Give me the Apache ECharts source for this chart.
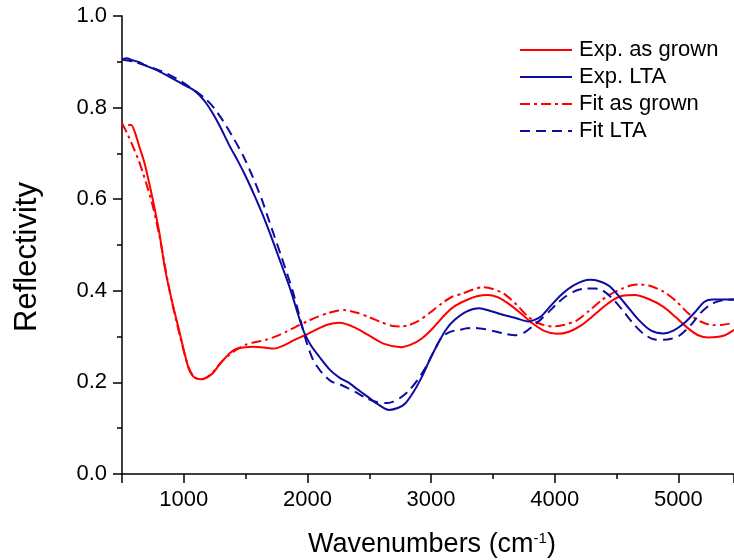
<!DOCTYPE html>
<html><head><meta charset="utf-8">
<script src="https://cdn.jsdelivr.net/npm/echarts@6/dist/echarts.min.js"></script>
<style>html,body{margin:0;padding:0;background:#fff}#c{width:734px;height:560px}</style>
</head><body><div id="c"></div>
<script>
var expGrownX = [550,575,603,640,683,720,750,800,850,902,968,1035,1080,1134,1180,1234,1290,1333,1390,1432,1500,1565,1650,1731,1810,1896,1980,2062,2160,2261,2380,2494,2620,2757,2840,2925,3020,3123,3200,3289,3370,3455,3540,3620,3720,3819,3920,4018,4110,4217,4300,4382,4460,4548,4648,4760,4880,4980,5079,5160,5244,5310,5376,5450];
var expGrownY = [0.762,0.762,0.747,0.715,0.678,0.635,0.598,0.530,0.445,0.380,0.307,0.234,0.212,0.207,0.210,0.220,0.240,0.253,0.268,0.274,0.277,0.278,0.276,0.274,0.281,0.293,0.303,0.314,0.326,0.330,0.320,0.303,0.284,0.277,0.283,0.296,0.320,0.351,0.368,0.380,0.388,0.391,0.386,0.373,0.352,0.329,0.312,0.306,0.310,0.325,0.343,0.362,0.378,0.389,0.391,0.382,0.365,0.342,0.318,0.303,0.298,0.299,0.303,0.315];

var expLtaX = [500,540,576,640,697,780,858,940,1020,1080,1127,1180,1235,1300,1369,1440,1504,1570,1632,1700,1764,1863,1963,2030,2096,2180,2261,2330,2394,2480,2560,2659,2730,2791,2860,2925,2990,3056,3120,3189,3290,3388,3480,3587,3690,3786,3885,3960,4051,4160,4283,4360,4449,4560,4681,4780,4880,4960,5046,5130,5211,5280,5343,5450];
var expLtaY = [0.905,0.908,0.904,0.899,0.891,0.882,0.871,0.859,0.847,0.838,0.827,0.810,0.787,0.755,0.717,0.682,0.648,0.609,0.570,0.523,0.476,0.402,0.316,0.280,0.256,0.228,0.210,0.200,0.187,0.170,0.154,0.140,0.144,0.154,0.180,0.212,0.250,0.285,0.315,0.336,0.355,0.362,0.356,0.347,0.340,0.333,0.343,0.365,0.391,0.413,0.424,0.421,0.409,0.375,0.336,0.313,0.307,0.313,0.329,0.352,0.376,0.381,0.381,0.381];

var fitGrownX = [500,540,589,630,670,710,750,804,850,902,968,1035,1080,1134,1180,1234,1300,1366,1430,1498,1580,1665,1750,1830,1910,1996,2080,2162,2230,2294,2400,2494,2600,2692,2760,2820,2891,2990,3090,3170,3255,3340,3421,3500,3587,3690,3786,3880,3985,4080,4183,4280,4382,4460,4548,4620,4681,4780,4880,4980,5079,5180,5277,5360,5450];
var fitGrownY = [0.766,0.745,0.715,0.688,0.657,0.622,0.584,0.518,0.450,0.378,0.302,0.235,0.213,0.206,0.210,0.222,0.243,0.260,0.272,0.282,0.288,0.293,0.301,0.311,0.322,0.333,0.343,0.351,0.356,0.358,0.352,0.343,0.331,0.323,0.322,0.325,0.333,0.352,0.373,0.387,0.394,0.403,0.408,0.404,0.394,0.370,0.343,0.328,0.322,0.326,0.336,0.357,0.380,0.394,0.405,0.412,0.414,0.410,0.398,0.378,0.351,0.333,0.325,0.326,0.330];

var fitLtaX = [500,600,700,858,980,1100,1180,1248,1320,1396,1480,1557,1630,1692,1790,1880,1940,1990,2046,2120,2195,2260,2330,2394,2480,2560,2650,2693,2760,2824,2890,2959,3030,3090,3160,3222,3290,3355,3440,3521,3600,3686,3760,3819,3890,3952,4020,4084,4170,4250,4320,4382,4460,4548,4630,4714,4800,4880,4950,5013,5100,5178,5250,5310,5380,5450];
var fitLtaY = [0.905,0.900,0.891,0.875,0.857,0.835,0.818,0.798,0.770,0.736,0.695,0.649,0.600,0.551,0.474,0.400,0.340,0.290,0.249,0.220,0.2015,0.196,0.187,0.178,0.165,0.157,0.155,0.158,0.168,0.183,0.205,0.234,0.272,0.300,0.311,0.314,0.318,0.319,0.316,0.311,0.306,0.303,0.310,0.322,0.338,0.354,0.372,0.387,0.400,0.405,0.405,0.402,0.385,0.358,0.330,0.307,0.294,0.293,0.296,0.303,0.325,0.351,0.368,0.376,0.380,0.381];

var seriesNames = ['Exp. as grown','Exp. LTA','Fit as grown','Fit LTA'];
var yTicks = [0,0.2,0.4,0.6,0.8,1.0];

function pairs(xs, ys){ return xs.map(function(x,i){return [x, ys[i]];}); }
var RED = '#ff0000', BLUE = '#0c0ca0';
var FONT = 'Liberation Sans, Arial, sans-serif';

var chart = echarts.init(document.getElementById('c'), null, {renderer:'canvas'});
chart.setOption({
  animation:false,
  backgroundColor:'#fff',
  grid:{left:122, right:-2, top:16, bottom:86, containLabel:false},
  xAxis:{
    type:'value', min:500, max:5450, splitNumber:5,
    axisLine:{lineStyle:{color:'#000', width:1.5}},
    axisTick:{length:9, lineStyle:{color:'#000', width:1.5}},
    minorTick:{show:true, splitNumber:2, length:5, lineStyle:{color:'#000', width:1.5}},
    splitLine:{show:false}, minorSplitLine:{show:false},
    axisLabel:{color:'#000', fontSize:22, fontFamily:FONT, margin:15, showMinLabel:false, showMaxLabel:false,
      formatter:function(v){ return (v % 1000 === 0) ? String(v) : ''; }}
  },
  yAxis:{
    type:'value', min:yTicks[0], max:yTicks[yTicks.length-1], interval:0.2,
    axisLine:{lineStyle:{color:'#000', width:1.5}},
    axisTick:{length:9, lineStyle:{color:'#000', width:1.5}},
    minorTick:{show:true, splitNumber:2, length:5, lineStyle:{color:'#000', width:1.5}},
    splitLine:{show:false}, minorSplitLine:{show:false},
    axisLabel:{color:'#000', fontSize:22, fontFamily:FONT, margin:15,
      formatter:function(v){ return v.toFixed(1); }}
  },
  legend:{
    orient:'vertical', left:514, top:34, itemWidth:52, itemHeight:14, itemGap:5,
    itemStyle:{opacity:0},
    textStyle:{color:'#000', fontSize:22, fontFamily:FONT, lineHeight:22, padding:[0,0,0,2]},
    data:seriesNames
  },
  graphic:[
    {type:'text', x:27, y:257, rotation:Math.PI/2, style:{text:'Reflectivity', fill:'#000', font:'31px '+FONT, textAlign:'center', textVerticalAlign:'middle'}},
    {type:'text', x:432, y:545, style:{
      text:'Wavenumbers (cm{sup|-1})', fill:'#000', font:'27px '+FONT, textAlign:'center', textVerticalAlign:'middle',
      rich:{sup:{fontSize:15, fontFamily:FONT, fill:'#000', verticalAlign:'top', padding:[0,0,12,0]}}
    }}
  ],
  series:[
    {name:seriesNames[0], type:'line', data:pairs(expGrownX, expGrownY), showSymbol:false, symbol:'none', smooth:0.25,
      lineStyle:{color:RED, width:2}, itemStyle:{color:RED}, z:3},
    {name:seriesNames[1], type:'line', data:pairs(expLtaX, expLtaY), showSymbol:false, symbol:'none', smooth:0.25,
      lineStyle:{color:BLUE, width:2}, itemStyle:{color:BLUE}, z:3},
    {name:seriesNames[2], type:'line', data:pairs(fitGrownX, fitGrownY), showSymbol:false, symbol:'none', smooth:0.25,
      lineStyle:{color:RED, width:2, type:[10,4,3,4]}, itemStyle:{color:RED}, z:2},
    {name:seriesNames[3], type:'line', data:pairs(fitLtaX, fitLtaY), showSymbol:false, symbol:'none', smooth:0.25,
      lineStyle:{color:BLUE, width:2, type:[10,6]}, itemStyle:{color:BLUE}, z:2}
  ]
});
</script></body></html>
